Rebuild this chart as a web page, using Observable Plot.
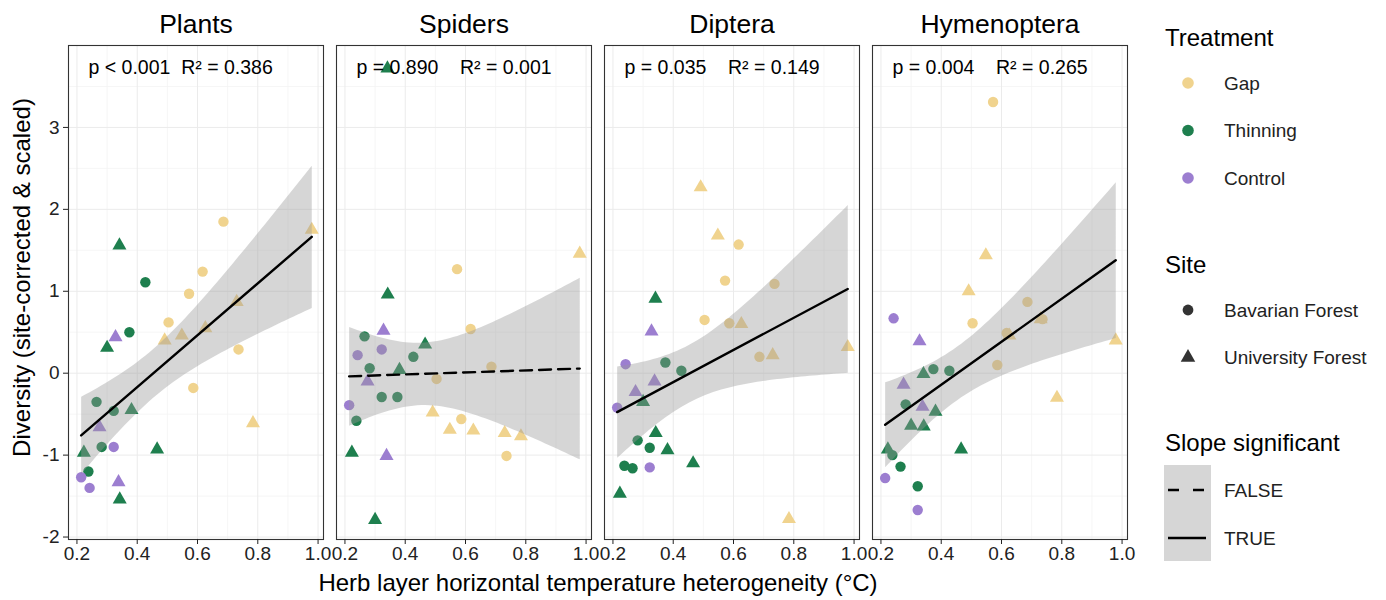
<!DOCTYPE html>
<html>
<head>
<meta charset="utf-8">
<script src="https://cdn.jsdelivr.net/npm/d3@7"></script>
<script src="https://cdn.jsdelivr.net/npm/@observablehq/plot@0.6"></script>
<style>
  body { margin: 0; background: #fff; }
  #wrap { position: relative; width: 1386px; height: 600px; font-family: "Liberation Sans", Arial, sans-serif; }
  #wrap > svg { position: absolute; left: 0; top: 0; }
</style>
</head>
<body>
<div id="wrap"></div>
<script>
// ---------- data ----------
const taxa = ["Plants", "Spiders", "Diptera", "Hymenoptera"];
const statLabels = [
  "p < 0.001\u00A0\u00A0R² = 0.386",
  "p = 0.890\u00A0\u00A0\u00A0\u00A0R² = 0.001",
  "p = 0.035\u00A0\u00A0\u00A0\u00A0R² = 0.149",
  "p = 0.004\u00A0\u00A0\u00A0\u00A0R² = 0.265"
];
const slopeSignificant = [true, false, true, true];

const treatments = ["Gap", "Thinning", "Control"];
const treatmentColors = ["#F0D38E", "#1E7F4E", "#9C7ED0"];
const sites = ["Bavarian Forest", "University Forest"];
const siteSymbols = ["circle", "triangle"];

// 30 plots: treatment, site, temperature heterogeneity (x)
const plotTreatment = [
  "Gap","Gap","Gap","Gap","Gap","Gap",
  "Gap","Gap","Gap","Gap","Gap","Gap",
  "Thinning","Thinning","Thinning","Thinning","Thinning","Thinning",
  "Thinning","Thinning","Thinning","Thinning","Thinning","Thinning",
  "Control","Control","Control",
  "Control","Control","Control"
];
const plotSite = [
  "Bavarian Forest","Bavarian Forest","Bavarian Forest","Bavarian Forest","Bavarian Forest","Bavarian Forest",
  "University Forest","University Forest","University Forest","University Forest","University Forest","University Forest",
  "Bavarian Forest","Bavarian Forest","Bavarian Forest","Bavarian Forest","Bavarian Forest","Bavarian Forest",
  "University Forest","University Forest","University Forest","University Forest","University Forest","University Forest",
  "Bavarian Forest","Bavarian Forest","Bavarian Forest",
  "University Forest","University Forest","University Forest"
];
const plotHeterogeneity = [
  0.686, 0.617, 0.572, 0.504, 0.736, 0.586,
  0.979, 0.730, 0.626, 0.548, 0.491, 0.784,
  0.427, 0.374, 0.265, 0.322, 0.282, 0.238,
  0.341, 0.300, 0.381, 0.223, 0.466, 0.342,
  0.322, 0.214, 0.242,
  0.328, 0.275, 0.338
];

const plantsDiversity = [
  1.85, 1.24, 0.97, 0.62, 0.29, -0.18,
  1.75, 0.87, 0.55, 0.46, 0.40, -0.61,
  1.11, 0.50, -0.35, -0.46, -0.90, -1.20,
  1.56, 0.31, -0.45, -0.97, -0.93, -1.54,
  -0.90, -1.27, -1.40,
  0.44, -0.66, -1.33
];
const spidersDiversity = [
  0.08, 0.54, 1.27, -0.07, -1.01, -0.56,
  1.46, -0.73, -0.70, -0.69, -0.48, -0.77,
  0.20, -0.29, 0.45, -0.29, 0.06, -0.58,
  3.72, -1.79, 0.04, -0.97, 0.35, 0.96,
  0.29, -0.39, 0.22,
  0.52, -0.10, -1.01
];
const dipteraDiversity = [
  0.20, 1.57, 1.13, 0.65, 1.09, 0.61,
  0.32, 0.22, 0.60, 1.68, 2.27, -1.78,
  0.03, 0.13, -1.16, -0.91, -0.82, -1.13,
  0.91, -0.35, -0.94, -1.47, -1.10, -0.73,
  -1.15, -0.42, 0.11,
  0.51, -0.23, -0.10
];
const hymenopteraDiversity = [
  0.87, 0.49, 3.31, 0.61, 0.66, 0.10,
  0.40, 0.66, 0.46, 1.44, 1.00, -0.30,
  0.03, 0.05, -1.14, -1.38, -0.38, -1.00,
  -0.01, -0.64, -0.47, -0.93, -0.93, -0.65,
  -1.67, -1.28, 0.67,
  0.39, -0.14, -0.41
];

const xMajor = [0.2, 0.4, 0.6, 0.8, 1.0];
const xMinor = [0.3, 0.5, 0.7, 0.9];
const yMajor = [-2, -1, 0, 1, 2, 3];
const yMinor = [-1.5, -0.5, 0.5, 1.5, 2.5, 3.5];
const xTitle = "Herb layer horizontal temperature heterogeneity (°C)";
const yTitle = "Diversity (site-corrected & scaled)";
const legendTitles = ["Treatment", "Site", "Slope significant"];
const slopeLevels = ["FALSE", "TRUE"];

// ---------- build table ----------
const diversityByTaxon = [plantsDiversity, spidersDiversity, dipteraDiversity, hymenopteraDiversity];
const rows = [];
taxa.forEach((t, k) => {
  plotHeterogeneity.forEach((x, i) => {
    rows.push({taxon: t, x, y: diversityByTaxon[k][i], treatment: plotTreatment[i], site: plotSite[i], sig: slopeSignificant[k]});
  });
});

const FONT = "Liberation Sans, Arial, sans-serif";

const chart = Plot.plot({
  width: 1386,
  height: 600,
  marginLeft: 67,
  marginRight: 259,
  marginTop: 45,
  marginBottom: 61,
  style: {fontFamily: FONT, fontWeight: "normal", background: "white", color: "#222", overflow: "visible"},
  fx: {domain: taxa, padding: 0.05},
  x: {domain: [0.172, 1.018]},
  y: {domain: [-2.03, 4.0]},
  color: {domain: treatments, range: treatmentColors},
  symbol: {domain: sites, range: siteSymbols},
  marks: [
    Plot.gridX(xMinor, {stroke: "#f4f4f4", strokeOpacity: 1, strokeWidth: 0.8}),
    Plot.gridY(yMinor, {stroke: "#f4f4f4", strokeOpacity: 1, strokeWidth: 0.8}),
    Plot.gridX(xMajor, {stroke: "#ebebeb", strokeOpacity: 1, strokeWidth: 1}),
    Plot.gridY(yMajor, {stroke: "#ebebeb", strokeOpacity: 1, strokeWidth: 1}),
    Plot.dot(rows, {x: "x", y: "y", fx: "taxon", fill: "treatment", symbol: "site", r: 5.2}),
    Plot.linearRegressionY(rows.filter(d => d.sig), {
      x: "x", y: "y", fx: "taxon", stroke: "black", strokeWidth: 2.4, fill: "#999999", fillOpacity: 0.4
    }),
    Plot.linearRegressionY(rows.filter(d => !d.sig), {
      x: "x", y: "y", fx: "taxon", stroke: "black", strokeWidth: 2.4, strokeDasharray: "12,7", fill: "#999999", fillOpacity: 0.4
    }),
    Plot.frame({stroke: "#333", strokeWidth: 1.1}),
    Plot.axisY({ticks: yMajor, tickSize: 5, tickPadding: 4, fontSize: 19, label: null, tickFormat: d => String(d), color: "#222"}),
    Plot.axisX({ticks: xMajor, tickSize: 5, tickPadding: 2, fontSize: 19, label: null, tickFormat: d3.format(".1f"), color: "#222"}),
    Plot.axisFx({anchor: "top", label: null, tickSize: 0, tickPadding: 13, fontSize: 26.5, color: "black"}),
    Plot.axisFx({anchor: "bottom", label: xTitle, labelAnchor: "center", labelOffset: 51, tickSize: 0, tickFormat: () => "", fontSize: 24, color: "black"}),
    Plot.text(taxa, {fx: d => d, text: (d, i) => statLabels[i], frameAnchor: "top-left", dx: 20, dy: 22, lineAnchor: "middle", fontSize: 19.5, fill: "black"}),
    Plot.text([yTitle], {fx: [taxa[0]], text: d => d, frameAnchor: "left", textAnchor: "middle", lineAnchor: "middle", rotate: -90, dx: -46, dy: -15, fontSize: 24, fill: "black"})
  ]
});
document.getElementById("wrap").appendChild(chart);

// ---------- legend ----------
const lg = d3.select("#wrap").append("svg")
  .attr("width", 246).attr("height", 600)
  .style("left", "1140px").style("top", "0px")
  .style("font-family", FONT);

const titleX = 25, keyX = 48, labelX = 84;
function title(txt, y) {
  lg.append("text").attr("x", titleX).attr("y", y).attr("dominant-baseline", "central")
    .attr("font-size", 24).attr("fill", "black").text(txt);
}
function label(txt, y) {
  lg.append("text").attr("x", labelX).attr("y", y).attr("dominant-baseline", "central")
    .attr("font-size", 19).attr("fill", "#222").text(txt);
}
title(legendTitles[0], 37);
treatments.forEach((t, i) => {
  const y = 83 + i * 47.5;
  lg.append("circle").attr("cx", keyX).attr("cy", y).attr("r", 5.8).attr("fill", treatmentColors[i]);
  label(t, y);
});
title(legendTitles[1], 264);
sites.forEach((s, i) => {
  const y = 310 + i * 47.5;
  const sym = siteSymbols[i] === "circle" ? d3.symbolCircle : d3.symbolTriangle;
  lg.append("path").attr("transform", `translate(${keyX},${y})`)
    .attr("d", d3.symbol(sym, Math.PI * 5.4 * 5.4)()).attr("fill", "#333");
  label(s, y);
});
title(legendTitles[2], 442);
lg.append("rect").attr("x", 24).attr("y", 465).attr("width", 47).attr("height", 96)
  .attr("fill", "#999999").attr("fill-opacity", 0.4);
slopeLevels.forEach((s, i) => {
  const y = 490 + i * 48;
  lg.append("line").attr("x1", 28).attr("x2", 66).attr("y1", y).attr("y2", y)
    .attr("stroke", "black").attr("stroke-width", 2.4)
    .attr("stroke-dasharray", s === "FALSE" ? "11,14" : null);
  label(s, y);
});
</script>
</body>
</html>
